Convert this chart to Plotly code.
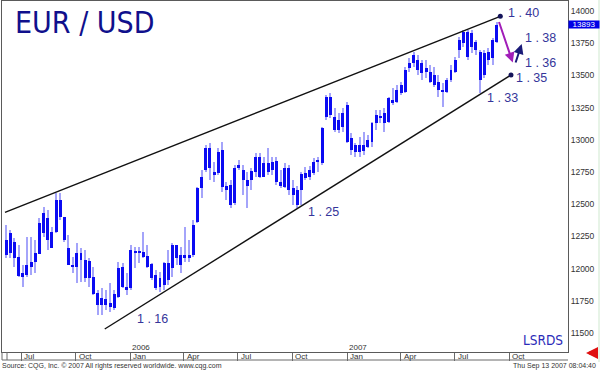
import plotly.graph_objects as go
import pandas as pd

# ---------------- data (weekly EUR/USD, price x 10000) ----------------
weeks = pd.date_range("2005-06-06", periods=119, freq="7D")

open_ = [
    12105, 12121, 12206, 12090, 11965, 11950, 12012, 12051, 12113, 12276,
    12392, 12284, 12284, 12532, 12400, 12160, 12028, 12012, 12121, 12066,
    12059, 11934, 11810, 11717, 11764, 11733, 11694, 11779, 12012, 11857,
    11849, 12136, 12128, 12128, 12097, 12035, 11950, 11857, 11872, 12043,
    12004, 12183, 12105, 12090, 12105, 12105, 12361, 12625, 12765, 12936,
    12750, 12742, 12920, 12641, 12649, 12509, 12781, 12765, 12688, 12688,
    12750, 12866, 12711, 12820, 12765, 12835, 12672, 12633, 12781, 12625,
    12610, 12610, 12742, 12711, 12742, 12827, 12820, 13177, 13332, 13177,
    13076, 13099, 13270, 13014, 12959, 12905, 12959, 12944, 12983, 13130,
    13185, 13130, 13138, 13309, 13294, 13363, 13371, 13558, 13596, 13620,
    13519, 13558, 13527, 13426, 13449, 13387, 13371, 13464, 13527, 13697,
    13752, 13837, 13721, 13759, 13682, 13503, 13682, 13635, 13759]

high = [
    12338, 12299, 12237, 12183, 12028, 12245, 12245, 12222, 12392, 12478,
    12455, 12323, 12587, 12587, 12400, 12260, 12090, 12198, 12160, 12144,
    12082, 12012, 11833, 11849, 11833, 11888, 11833, 12051, 12043, 11965,
    12183, 12167, 12167, 12284, 12183, 12043, 11989, 11973, 12051, 12144,
    12198, 12183, 12167, 12323, 12222, 12377, 12633, 12765, 12959, 12975,
    12827, 12936, 12983, 12672, 12688, 12804, 12843, 12804, 12750, 12781,
    12897, 12897, 12866, 12936, 12866, 12866, 12765, 12820, 12804, 12688,
    12641, 12750, 12788, 12796, 12858, 12866, 13099, 13348, 13363, 13247,
    13208, 13247, 13294, 13052, 12975, 13021, 13060, 13037, 13138, 13231,
    13231, 13247, 13332, 13402, 13426, 13449, 13565, 13635, 13682, 13658,
    13620, 13620, 13581, 13565, 13503, 13441, 13480, 13581, 13643, 13798,
    13852, 13852, 13852, 13775, 13697, 13697, 13713, 13790, 13915]

low = [
    12082, 12082, 12012, 11934, 11857, 11934, 11950, 11965, 12113, 12245,
    12144, 12160, 12276, 12377, 12206, 12028, 11965, 11888, 11896, 11896,
    11857, 11795, 11639, 11639, 11678, 11663, 11678, 11771, 11849, 11795,
    11833, 12004, 12043, 12082, 12004, 11911, 11833, 11818, 11833, 11872,
    11934, 12028, 11965, 12051, 12051, 12090, 12354, 12548, 12750, 12688,
    12672, 12726, 12594, 12532, 12470, 12493, 12765, 12571, 12470, 12610,
    12711, 12703, 12711, 12726, 12726, 12649, 12625, 12625, 12571, 12493,
    12470, 12493, 12688, 12688, 12726, 12750, 12804, 13153, 13169, 13060,
    13052, 13060, 12975, 12882, 12866, 12866, 12882, 12936, 12944, 13076,
    13130, 13060, 13130, 13270, 13286, 13348, 13363, 13527, 13565, 13503,
    13464, 13480, 13441, 13410, 13332, 13255, 13363, 13449, 13519, 13635,
    13721, 13620, 13674, 13658, 13363, 13480, 13581, 13581, 13752]

close = [
    12222, 12276, 12082, 11942, 11934, 12028, 12051, 12121, 12354, 12431,
    12222, 12160, 12532, 12400, 12222, 12028, 12012, 12121, 12066, 11927,
    11927, 11802, 11717, 11771, 11717, 11701, 11802, 12004, 11857, 11833,
    12144, 12128, 12136, 12090, 12012, 11927, 11849, 11927, 12043, 11911,
    12183, 12082, 12028, 12105, 12090, 12338, 12625, 12711, 12936, 12781,
    12726, 12905, 12633, 12610, 12493, 12781, 12804, 12688, 12641, 12757,
    12866, 12711, 12820, 12750, 12827, 12672, 12641, 12781, 12610, 12571,
    12493, 12734, 12703, 12765, 12827, 12843, 13091, 13332, 13192, 13076,
    13153, 13208, 12983, 12920, 12905, 12959, 12913, 12998, 13130, 13192,
    13169, 13208, 13325, 13286, 13387, 13426, 13542, 13596, 13658, 13542,
    13596, 13527, 13449, 13503, 13387, 13371, 13464, 13542, 13620, 13775,
    13837, 13643, 13829, 13697, 13464, 13674, 13620, 13775, 13893]

last_price = 13893

# trend channel anchors (date, value)
upper_dates = ["2005-06-04", "2007-09-16"]
upper_vals = [12437, 13959]
lower_dates = ["2005-11-19", "2007-10-04"]
lower_vals = [11531, 13503]

# projection arrows (tail -> head)
down_arrow = [("2007-09-13", 13926), ("2007-10-07", 13600)]
up_arrow = [("2007-10-11", 13588), ("2007-10-22", 13744)]

# level labels
level_texts = ["1 . 40", "1 . 38", "1 . 36", "1 . 35", "1 . 33", "1 . 25", "1 . 16"]
level_dates = ["2007-09-25", "2007-10-24", "2007-10-24", "2007-10-09",
               "2007-08-21", "2006-10-24", "2006-01-09"]
level_vals = [13984, 13790, 13596, 13476, 13324, 12440, 11608]

# axis ticks
month_ticks = ["2005-07-01", "2005-10-01", "2006-01-01", "2006-04-01", "2006-07-01",
               "2006-10-01", "2007-01-01", "2007-04-01", "2007-07-01", "2007-10-01"]
month_labels = ["Jul", "Oct", "Jan", "Apr", "Jul", "Oct", "Jan", "Apr", "Jul", "Oct"]
year_ticks = ["2006-01-01", "2007-01-01"]
year_labels = ["2006", "2007"]
price_ticks = [11500, 11750, 12000, 12250, 12500, 12750, 13000, 13250, 13500, 13750, 14000]

# ---------------- layout helpers ----------------
W, H = 600, 370
ML, MR, MT, MB = 2, 32, 1, 18
PW, PH = W - ML - MR, H - MT - MB


def px_x(px):
    return (px - ML) / PW


def px_y(py):
    return 1 - (py - MT) / PH


NARROW = "Liberation Sans Narrow, DejaVu Sans Condensed, Arial Narrow, Liberation Sans, sans-serif"
SANS = "Liberation Sans, Arial, sans-serif"
DAY = 86400000

fig = go.Figure()

# wicks
fig.add_trace(go.Bar(
    x=weeks, y=[h - l for h, l in zip(high, low)], base=low,
    width=1.8 * DAY, marker=dict(color="#a4a4fa", line=dict(width=0)),
    hoverinfo="skip", showlegend=False))
# bodies
fig.add_trace(go.Bar(
    x=weeks, y=[abs(c - o) for o, c in zip(open_, close)],
    base=[min(o, c) for o, c in zip(open_, close)],
    width=5.0 * DAY, marker=dict(color="#0b0bf2", line=dict(width=0)),
    hoverinfo="skip", showlegend=False))

# channel lines
fig.add_trace(go.Scatter(x=upper_dates, y=upper_vals, mode="lines",
                         line=dict(color="#111111", width=1.4), hoverinfo="skip", showlegend=False))
fig.add_trace(go.Scatter(x=lower_dates, y=lower_vals, mode="lines",
                         line=dict(color="#111111", width=1.4), hoverinfo="skip", showlegend=False))
fig.add_trace(go.Scatter(x=[upper_dates[1], lower_dates[1]], y=[upper_vals[1], lower_vals[1]],
                         mode="markers", marker=dict(color="#14145a", size=5),
                         hoverinfo="skip", showlegend=False))

annotations = []
for (tx, ty), (hx, hy), col in [(down_arrow[0], down_arrow[1], "#a11db8"),
                                (up_arrow[0], up_arrow[1], "#1a1a78")]:
    annotations.append(dict(x=hx, y=hy, ax=tx, ay=ty, xref="x", yref="y", axref="x", ayref="y",
                            showarrow=True, arrowhead=2, arrowsize=1, arrowwidth=2,
                            arrowcolor=col, text=""))

for t, d, v in zip(level_texts, level_dates, level_vals):
    annotations.append(dict(x=d, y=v, xref="x", yref="y", text=t, showarrow=False,
                            xanchor="left", yanchor="middle",
                            font=dict(family=SANS, size=12.5, color="#35359a")))

# title and tag
annotations.append(dict(x=px_x(13), y=px_y(22), xref="paper", yref="paper", text="EUR / USD",
                        showarrow=False, xanchor="left", yanchor="middle",
                        font=dict(family=NARROW, size=30, color="#10108c")))
annotations.append(dict(x=px_x(521), y=px_y(340), xref="paper", yref="paper", text="LSRDS",
                        showarrow=False, xanchor="left", yanchor="middle",
                        font=dict(family=NARROW, size=13.5, color="#2b2bb8")))

# month / year labels
for d, t in zip(month_ticks, month_labels):
    annotations.append(dict(x=d, y=px_y(356), xref="x", yref="paper", text=t, showarrow=False,
                            xanchor="left", yanchor="middle", xshift=1,
                            font=dict(family=SANS, size=8, color="#333333")))
for d, t in zip(year_ticks, year_labels):
    annotations.append(dict(x=d, y=px_y(347.5), xref="x", yref="paper", text=t, showarrow=False,
                            xanchor="left", yanchor="middle", xshift=0,
                            font=dict(family=SANS, size=8, color="#333333")))

# last price tag
annotations.append(dict(x=1, y=last_price, xref="paper", yref="y", text=str(last_price),
                        showarrow=False, xanchor="left", yanchor="middle", width=30, height=7,
                        bgcolor="#0000e6", borderpad=0,
                        font=dict(family=SANS, size=8, color="#ffffff")))

# footer
annotations.append(dict(x=px_x(0), y=px_y(365.5), xref="paper", yref="paper",
                        text="Source: CQG, Inc. © 2007 All rights reserved worldwide. www.cqg.com",
                        showarrow=False, xanchor="left", yanchor="middle",
                        font=dict(family=SANS, size=7, color="#333333")))
annotations.append(dict(x=px_x(598), y=px_y(365.5), xref="paper", yref="paper",
                        text="Thu Sep 13 2007 08:04:40",
                        showarrow=False, xanchor="right", yanchor="middle",
                        font=dict(family=SANS, size=7, color="#333333")))
# red arrow
annotations.append(dict(x=px_x(586), y=px_y(353), xref="paper", yref="paper", ax=11, ay=0,
                        showarrow=True, arrowhead=2, arrowsize=0.8, arrowwidth=3,
                        arrowcolor="#e01010", text=""))

shapes = [
    # bottom of date strip
    dict(type="line", xref="paper", yref="paper", x0=0, x1=1, y0=px_y(360), y1=px_y(360),
         line=dict(color="#6a6a6a", width=1)),
    dict(type="line", xref="paper", yref="paper", x0=px_x(7), x1=px_x(7), y0=px_y(352), y1=px_y(360),
         line=dict(color="#6a6a6a", width=1)),
    dict(type="line", xref="paper", yref="paper", x0=0, x1=0, y0=px_y(352), y1=px_y(360),
         line=dict(color="#6a6a6a", width=1)),
    # faint right edge
    dict(type="line", xref="paper", yref="paper", x0=px_x(599), x1=px_x(599), y0=px_y(0), y1=px_y(362),
         line=dict(color="#cfe8cf", width=1)),
]

fig.update_layout(
    width=W, height=H,
    margin=dict(l=ML, r=MR, t=MT, b=MB, pad=0, autoexpand=False),
    paper_bgcolor="white", plot_bgcolor="white",
    barmode="overlay", bargap=0,
    showlegend=False,
    annotations=annotations, shapes=shapes,
    xaxis=dict(type="date", range=["2005-05-30", "2008-01-08"], showgrid=False, zeroline=False,
               showline=True, mirror=True, linecolor="#5a5a5a", linewidth=1, automargin=False,
               tickvals=month_ticks, showticklabels=False, ticks="outside", ticklen=8,
               tickcolor="#6a6a6a", tickwidth=1),
    yaxis=dict(range=[11352.5, 14077.6], side="right", showgrid=False, zeroline=False,
               showline=True, mirror=True, linecolor="#5a5a5a", linewidth=1, automargin=False,
               tickvals=price_ticks, ticktext=[str(v) for v in price_ticks], ticks="",
               tickfont=dict(family=SANS, size=8.5, color="#333333")),
)

fig.write_html("out.html", config={"displayModeBar": False},
               post_script="document.body.style.margin='0';document.body.style.padding='0';")
